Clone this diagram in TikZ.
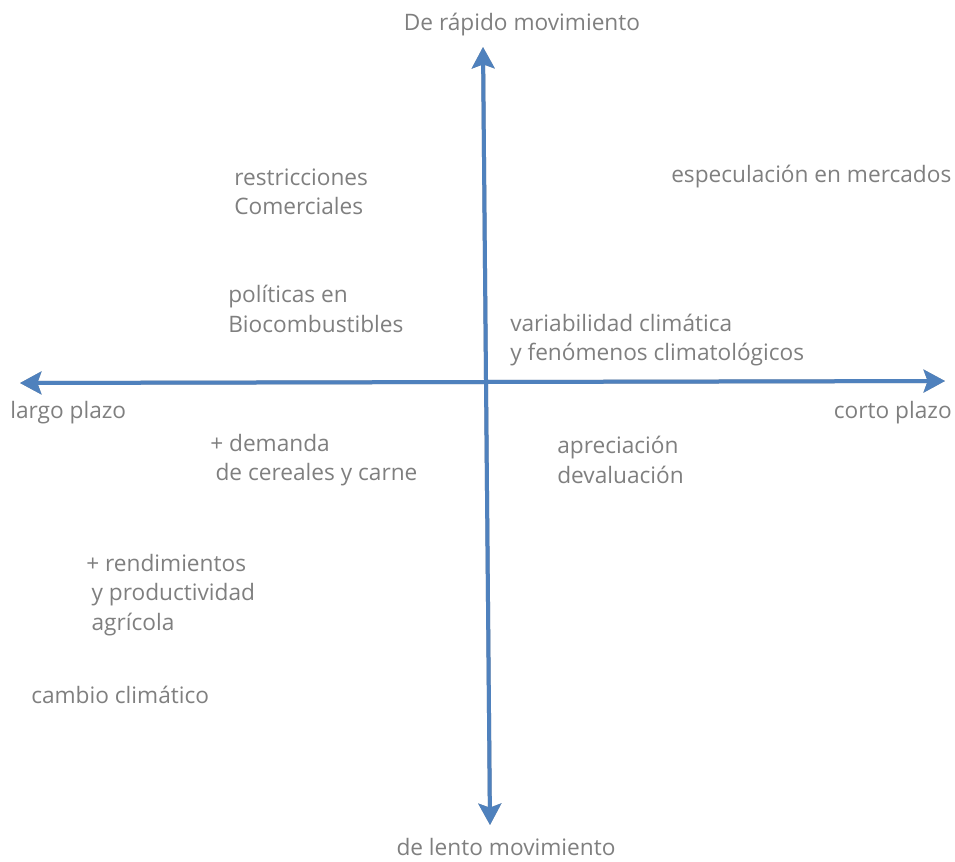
\documentclass[tikz,border=0pt]{standalone}
\usepackage{fontspec}
\setmainfont{Open Sans}
\usetikzlibrary{arrows.meta}
\definecolor{axisblue}{HTML}{4F81BD}
\definecolor{shadowgray}{HTML}{A6A6A6}
\definecolor{textgray}{HTML}{7F7F7F}

\begin{document}
\begin{tikzpicture}[> = {Stealth[length=16pt,width=17pt,inset=3pt]}, % arrow head style
	x=0.75pt,y=-0.75pt,
	axis/.style={line width=3pt,color=axisblue},
	shade/.style={line width=3pt,color=shadowgray},
	every node/.style={text=textgray,font=\fontsize{17}{22}\selectfont,inner sep=0pt}]
	\useasboundingbox (0,0) rectangle (955,861);

	% end points of the axes
	\coordinate (west) at (20,383);
	\coordinate (east) at (945,381);
	\coordinate (north) at (483,47);
	\coordinate (south) at (490,825);

	% shadow first
	\begin{scope}[shift={(2,3)}]
	\draw [shade,<->] (west) -- (east);
	\draw [shade,<->] (north) -- (south);
	\end{scope}
	\draw [axis,<->] (west) -- (east);
	\draw [axis,<->] (north) -- (south);

	\node (rapido) at (522,25) {De rápido movimiento};
	\node (lento) at (506,847) {de lento movimiento};
	\node[anchor=west] (largo) at (10,413) {largo plazo};
	\node[anchor=east] (corto) at (952,413) {corto plazo};

	\node[anchor=west,align=left] (restric) at (234,192) {restricciones\\Comerciales};
	\node[anchor=west] (especul) at (671,177) {especulación en mercados};
	\node[anchor=west,align=left] (politic) at (228,309) {políticas en\\Biocombustibles};
	\node[anchor=west,align=left] (variab) at (510,340) {variabilidad climática\\y fenómenos climatológicos};
	\node[anchor=west,align=left] (demanda) at (210,460) {+ demanda\\\hspace{4pt}de cereales y carne};
	\node[anchor=west,align=left] (apreci) at (557,460) {apreciación\\devaluación};
	\node[anchor=west,align=left] (rendim) at (86,595) {+ rendimientos\\\hspace{4pt}y productividad\\\hspace{4pt}agrícola};
	\node[anchor=west] (cambio) at (31,695) {cambio climático};
\end{tikzpicture}
\end{document}
